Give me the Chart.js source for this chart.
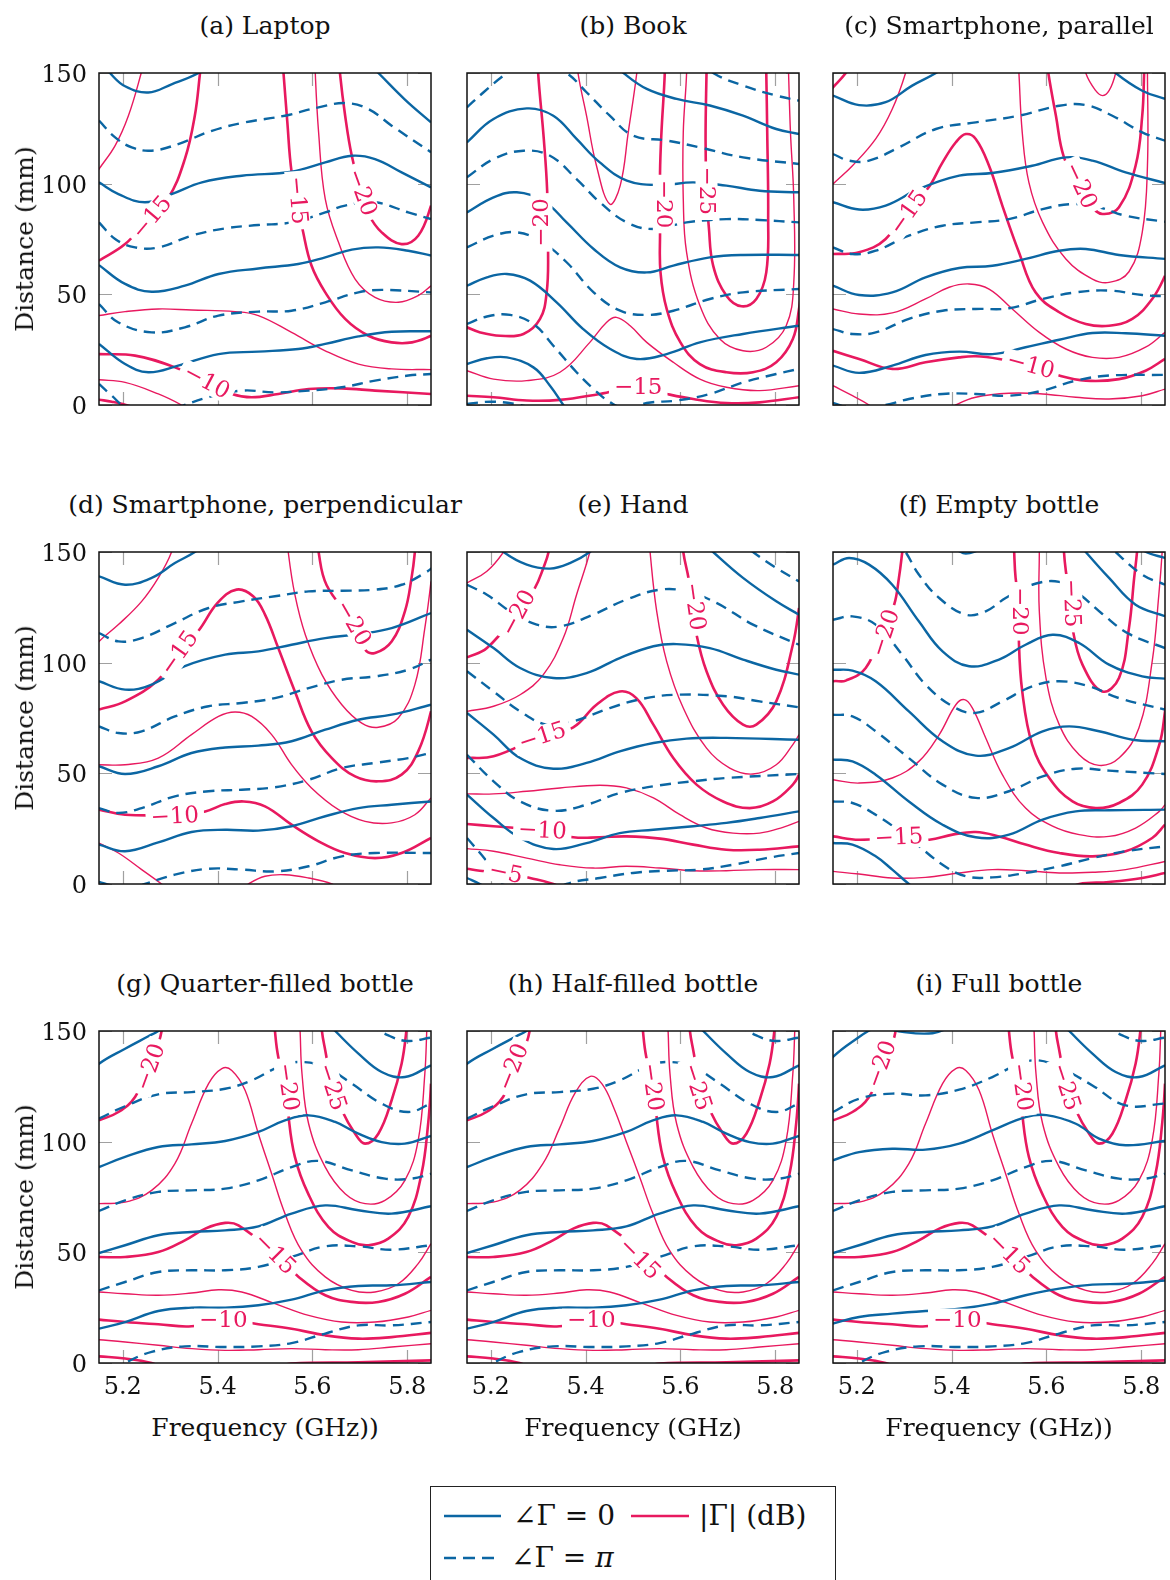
<!DOCTYPE html>
<html>
<head>
<meta charset="utf-8">
<script src="https://cdn.jsdelivr.net/npm/chart.js@4.4.1/dist/chart.umd.min.js"></script>
<style>
  body { margin: 0; background: #fff; width: 1170px; height: 1580px; position: relative; overflow: hidden;
         font-family: "DejaVu Serif", "Liberation Serif", serif; color: #111; }
  canvas { position: absolute; }
  .txt { position: absolute; font-size: 25px; line-height: 28px; white-space: nowrap; transform: translate(-50%, -50%); }
  .ylab { position: absolute; font-size: 25px; line-height: 28px; white-space: nowrap; transform: translate(-50%, -50%) rotate(-90deg); }
  #legend { position: absolute; left: 430px; top: 1486px; width: 404px; height: 130px; border: 1.4px solid #222; }
  #legend span { position: absolute; font-size: 28px; line-height: 30px; white-space: nowrap; transform: translateY(-50%); }
  #legend svg { position: absolute; left: 0; top: 0; }
</style>
</head>
<body>
<script>
// axes
const freqRange = [5.15, 5.85];
const distRange = [0, 150];
const freqTicks = [5.2, 5.4, 5.6, 5.8];
const distTicks = [0, 50, 100, 150];

const titles = ['(a) Laptop', '(b) Book', '(c) Smartphone, parallel',
  '(d) Smartphone, perpendicular', '(e) Hand', '(f) Empty bottle',
  '(g) Quarter-filled bottle', '(h) Half-filled bottle', '(i) Full bottle'];
const xTitles = ['Frequency (GHz))', 'Frequency (GHz)', 'Frequency (GHz))'];
const yTitle = 'Distance (mm)';

// contour lines: [frequency GHz, distance mm] points
// *Zero = phase 0, *Pi = phase pi, *Major = labelled |Γ| levels, *Minor = in-between |Γ| levels
// *Labels = [freq, dist, angle deg, text]

// (a) Laptop
const aZero = [
  [[5.14,158],[5.173,150],[5.205,144],[5.254,141.2],[5.303,144.9],[5.36,150],[5.39,155]],
  [[5.71,156],[5.739,150],[5.795,138],[5.85,127.7],[5.87,124]],
  [[5.15,100.6],[5.191,95.3],[5.247,91.6],[5.303,95.3],[5.367,100.6],[5.451,103.6],[5.556,105.4],[5.627,109.6],[5.683,112.6],[5.732,111.1],[5.788,105.1],[5.85,98.3]],
  [[5.15,63.2],[5.205,54.7],[5.261,51.2],[5.331,53.9],[5.402,59.2],[5.486,61.7],[5.57,63.7],[5.627,66.7],[5.683,70.2],[5.739,71.2],[5.802,69.7],[5.85,67.5]],
  [[5.15,27.6],[5.205,18.5],[5.254,14.8],[5.317,17.8],[5.402,23],[5.486,24.1],[5.57,25.3],[5.627,27.6],[5.697,31],[5.767,33.1],[5.85,33.3]]
];
const aPi = [
  [[5.15,128.5],[5.184,120.9],[5.219,116.4],[5.261,114.9],[5.317,117.9],[5.388,123.9],[5.458,127.7],[5.542,130.7],[5.613,134.5],[5.669,136.4],[5.718,133.7],[5.767,126.2],[5.85,114.2]],
  [[5.15,82.5],[5.184,75],[5.226,71.2],[5.275,71.2],[5.345,76.5],[5.416,79.8],[5.486,81.3],[5.556,82.5],[5.627,87],[5.669,90.1],[5.732,91.6],[5.802,87],[5.85,84]],
  [[5.15,45.6],[5.191,37.3],[5.261,32.8],[5.331,35.1],[5.402,40.4],[5.486,42.2],[5.556,42.6],[5.627,46.4],[5.697,50.9],[5.746,52],[5.85,50.9]],
  [[5.15,9.5],[5.177,4.2],[5.205,-1],[5.26,-6],[5.331,0],[5.38,3.5],[5.451,6.5],[5.521,5.7],[5.592,6.5],[5.662,8],[5.732,11],[5.802,13.3],[5.85,14]]
];
const aMajor = [
  [[5.15,65.2],[5.205,72.7],[5.247,82.5],[5.295,93.1],[5.331,111.1],[5.352,130.7],[5.363,150],[5.367,158]],
  [[5.536,158],[5.539,150],[5.547,128],[5.556,105.4],[5.572,87.8],[5.579,79.5],[5.598,63],[5.627,50.9],[5.669,38.9],[5.718,31.3],[5.767,28.3],[5.81,28.3],[5.85,31.3],[5.87,35]],
  [[5.656,158],[5.658,150],[5.669,130.7],[5.683,112.6],[5.704,95.3],[5.718,86.3],[5.746,78],[5.788,72.7],[5.823,76.5],[5.85,90.1],[5.86,100]],
  [[5.15,23],[5.226,22.3],[5.31,17],[5.374,10.2],[5.43,5],[5.472,3.5],[5.528,5],[5.592,7.2],[5.662,7.5],[5.732,6.5],[5.85,5]],
  [[5.15,2.4],[5.177,1.5],[5.212,-0.3],[5.23,-2]]
];
const aMinor = [
  [[5.13,100],[5.15,106.6],[5.184,117.2],[5.212,130.7],[5.239,150],[5.245,156]],
  [[5.606,158],[5.606,150],[5.613,123.2],[5.627,93.1],[5.655,73.5],[5.69,56.9],[5.732,48.6],[5.781,46.4],[5.823,49.4],[5.85,53.9],[5.87,58]],
  [[5.15,40.4],[5.205,42.2],[5.275,43.4],[5.345,42.9],[5.437,42.2],[5.486,40.4],[5.556,32.8],[5.627,24.5],[5.697,18.5],[5.767,16.3],[5.85,16]],
  [[5.15,11.4],[5.205,10.2],[5.275,5],[5.324,0],[5.345,-3]]
];
const aLabels = [[5.261,84.8,-50,'−15'],[5.569,92.5,85,'−15'],[5.704,96.1,70,'−20'],[5.377,10.5,28,'−10']];

// (b) Book
const bZero = [
  [[5.44,158],[5.48,150],[5.529,142.8],[5.592,138.3],[5.662,135.3],[5.732,130.7],[5.802,124.7],[5.85,122.4]],
  [[5.15,118.7],[5.206,129.2],[5.276,134],[5.332,130.7],[5.381,120.2],[5.43,109.6],[5.487,101.4],[5.557,99.4],[5.627,100.6],[5.697,99.1],[5.767,96.8],[5.85,96.1]],
  [[5.15,87],[5.206,93.8],[5.255,96.1],[5.311,92.3],[5.36,82.5],[5.417,70.5],[5.473,62.2],[5.529,59.9],[5.585,63],[5.662,66.7],[5.732,67.8],[5.85,67.8]],
  [[5.15,53.9],[5.192,57.7],[5.234,59.2],[5.283,56.2],[5.339,46.4],[5.395,34.3],[5.452,25.3],[5.508,20.8],[5.571,23],[5.641,28.3],[5.732,32.1],[5.85,35.8]],
  [[5.15,18.5],[5.192,21.1],[5.234,21.5],[5.29,17],[5.325,8.7],[5.353,0],[5.37,-5]]
];
const bPi = [
  [[5.15,134.5],[5.185,141.3],[5.227,148.8],[5.29,158],[5.36,150],[5.402,141.3],[5.451,130.7],[5.5,121.7],[5.571,119.5],[5.641,116.4],[5.732,111.9],[5.85,108.9]],
  [[5.64,156],[5.669,150],[5.732,144.3],[5.802,139.8],[5.85,137.5]],
  [[5.15,102.9],[5.206,111.1],[5.269,114.9],[5.325,112.6],[5.381,102.1],[5.43,91.6],[5.487,82.5],[5.543,79.5],[5.613,82.5],[5.697,84],[5.767,83.6],[5.85,82.5]],
  [[5.15,71.2],[5.206,76.5],[5.255,78],[5.304,74.2],[5.36,64.5],[5.417,50.9],[5.473,42.6],[5.529,40.7],[5.585,42.6],[5.662,47.9],[5.732,50.9],[5.85,52.4]],
  [[5.15,36.6],[5.192,40],[5.241,40.7],[5.29,36.6],[5.332,26.8],[5.381,14.8],[5.417,7.2],[5.452,1.2],[5.49,-2],[5.529,0.9],[5.592,2],[5.662,5],[5.732,10.2],[5.802,14],[5.85,16.3]],
  [[5.15,0.5],[5.2,1.5],[5.25,0.5],[5.3,-2]]
];
const bMajor = [
  [[5.3,158],[5.3,150],[5.312,120],[5.319,96.8],[5.321,69.7],[5.318,50.9],[5.304,38.9],[5.269,32.1],[5.22,31.3],[5.178,32.8],[5.15,35.1],[5.13,37]],
  [[5.566,158],[5.567,150],[5.56,123.2],[5.557,105.1],[5.557,78],[5.558,59.9],[5.571,43.4],[5.6,28.3],[5.641,18.5],[5.697,14.8],[5.753,14.8],[5.802,19.3],[5.837,29.8],[5.85,43.4],[5.86,60]],
  [[5.656,158],[5.655,150],[5.653,120],[5.655,96.1],[5.66,80],[5.669,63],[5.697,49.4],[5.729,44.6],[5.76,47.9],[5.781,59.9],[5.785,85.5],[5.783,123.2],[5.781,150],[5.78,158]],
  [[5.15,4.2],[5.206,3.5],[5.276,2],[5.346,2.3],[5.43,5],[5.511,8],[5.571,5],[5.627,2.7],[5.697,0.9],[5.767,1.2],[5.85,3.5]]
];
const bMinor = [
  [[5.382,158],[5.384,150],[5.402,130.7],[5.423,108.1],[5.451,90.8],[5.473,99.1],[5.49,123.2],[5.508,150],[5.51,158]],
  [[5.612,158],[5.613,150],[5.606,123.2],[5.606,93.1],[5.613,69],[5.641,44.9],[5.683,29.8],[5.732,24.5],[5.781,26.1],[5.823,35.8],[5.839,55.4],[5.839,93.1],[5.832,123.2],[5.828,150],[5.827,158]],
  [[5.15,15.5],[5.206,11.7],[5.276,11],[5.346,14.8],[5.409,28.3],[5.444,37.3],[5.465,39.6],[5.494,35.8],[5.529,28.3],[5.585,19.3],[5.641,11.7],[5.697,8],[5.767,6.5],[5.85,8.7]]
];
const bLabels = [[5.307,82.5,-90,'−20'],[5.565,90.8,90,'−20'],[5.655,96.8,90,'−25'],[5.511,8,0,'−15']];

// (c) Smartphone, parallel
const cZero = [
  [[5.15,139.8],[5.205,135.5],[5.261,136.8],[5.317,144.3],[5.367,150],[5.4,155]],
  [[5.72,156],[5.746,150],[5.802,142],[5.85,138.3]],
  [[5.15,91.6],[5.205,88.3],[5.261,90.1],[5.331,97.6],[5.416,103.6],[5.486,104.8],[5.57,108.1],[5.641,111.9],[5.697,110.4],[5.767,105.1],[5.85,100.3]],
  [[5.15,53.9],[5.205,49.7],[5.275,50.9],[5.345,57.7],[5.416,61.9],[5.486,62.9],[5.556,66],[5.627,69.7],[5.683,70.5],[5.753,67.8],[5.85,66]],
  [[5.15,17.8],[5.205,14.5],[5.275,17.8],[5.345,22.6],[5.416,24.1],[5.486,23],[5.556,26.1],[5.627,29.5],[5.697,32.5],[5.767,32.4],[5.85,31.3]]
];
const cPi = [
  [[5.15,113.4],[5.184,110.4],[5.226,110.4],[5.289,116.4],[5.367,124.7],[5.451,127.7],[5.542,130.7],[5.627,135.2],[5.683,135.5],[5.739,130.7],[5.802,123.2],[5.85,119.4]],
  [[5.15,71.2],[5.191,68.2],[5.24,69.7],[5.31,76.5],[5.381,81],[5.451,82.5],[5.521,84],[5.592,88.5],[5.655,90.8],[5.711,89.3],[5.767,85.5],[5.85,82.8]],
  [[5.15,34.3],[5.191,32.1],[5.24,32.8],[5.31,38.9],[5.381,42.6],[5.451,43.4],[5.521,43.7],[5.592,47.9],[5.662,50.9],[5.732,51.7],[5.802,49.7],[5.85,49.1]],
  [[5.15,1],[5.2,-2],[5.261,0],[5.31,2.7],[5.381,5],[5.451,5],[5.521,4.2],[5.592,6.5],[5.662,11],[5.732,13.3],[5.85,13.6]]
];
const cMajor = [
  [[5.13,139],[5.15,143.5],[5.177,150],[5.19,155]],
  [[5.15,68.2],[5.205,69],[5.261,75],[5.31,90.1],[5.349,97.6],[5.381,109.6],[5.409,118.7],[5.43,122.4],[5.451,120.2],[5.479,108.1],[5.507,90.1],[5.542,69],[5.577,50.9],[5.627,41.9],[5.683,36.6],[5.732,35.8],[5.781,38.9],[5.823,47.9],[5.85,58.4],[5.86,65]],
  [[5.6,158],[5.604,150],[5.62,130.7],[5.637,111.9],[5.669,99.1],[5.694,90.1],[5.718,86.3],[5.753,89.3],[5.788,108.1],[5.802,130.7],[5.806,150],[5.807,158]],
  [[5.15,24.5],[5.205,20.8],[5.275,16.3],[5.345,19.3],[5.416,21.5],[5.451,22],[5.5,20.8],[5.567,17.8],[5.627,13.3],[5.683,11],[5.753,11.7],[5.809,15.5],[5.85,20.8]]
];
const cMinor = [
  [[5.13,95],[5.15,99.8],[5.191,108.1],[5.24,120.2],[5.275,133.7],[5.303,150],[5.31,158]],
  [[5.54,158],[5.542,150],[5.549,123.2],[5.563,100.6],[5.592,82.5],[5.641,66],[5.697,56.9],[5.732,55.4],[5.774,60.2],[5.802,78],[5.813,108.1],[5.813,150],[5.812,158]],
  [[5.68,158],[5.683,150],[5.704,142],[5.718,139.8],[5.732,142],[5.746,150],[5.75,158]],
  [[5.15,43.4],[5.205,41.1],[5.275,41.6],[5.345,47.9],[5.395,53.2],[5.437,54.7],[5.479,52.4],[5.528,43.4],[5.585,32.8],[5.641,25.3],[5.697,21.5],[5.753,21.5],[5.809,26.1],[5.85,32.8]],
  [[5.15,8.7],[5.191,4.2],[5.226,0],[5.24,-3]],
  [[5.39,-3],[5.409,0],[5.451,3.5],[5.521,5.3],[5.592,5],[5.662,3.5],[5.732,2.7],[5.802,4.2],[5.85,7.2]]
];
const cLabels = [[5.309,87,-55,'−15'],[5.672,99.1,65,'−20'],[5.567,17.8,15,'−10']];

// (d) Smartphone, perpendicular
const dZero = [
  [[5.15,139],[5.205,135.2],[5.261,138.3],[5.31,145],[5.352,150],[5.38,155]],
  [[5.15,91.6],[5.205,87.8],[5.261,90.1],[5.331,98.4],[5.416,103.6],[5.486,105.1],[5.556,108.1],[5.627,111.1],[5.697,112.9],[5.767,115.6],[5.85,122.4]],
  [[5.15,53.2],[5.205,49.7],[5.275,53.2],[5.345,59.2],[5.416,61.7],[5.486,62.5],[5.556,64.5],[5.627,69.7],[5.697,74.2],[5.767,76.5],[5.85,81]],
  [[5.15,17.8],[5.205,14.8],[5.275,18.8],[5.345,23.5],[5.416,24.5],[5.486,24.1],[5.556,26.1],[5.627,30.6],[5.697,34.3],[5.767,35.8],[5.85,37.3]],
  [[5.15,1],[5.18,-1],[5.2,-3]]
];
const dPi = [
  [[5.15,113.4],[5.191,109.6],[5.24,111.1],[5.31,117.9],[5.381,124.7],[5.451,127.7],[5.521,130],[5.592,132.2],[5.662,132.5],[5.732,133],[5.788,135.2],[5.837,140.5],[5.86,144]],
  [[5.15,71.2],[5.191,68.2],[5.24,69],[5.31,75.7],[5.381,80.3],[5.451,81.8],[5.521,84],[5.592,88.5],[5.662,92.3],[5.732,93.8],[5.802,96.8],[5.85,101.4]],
  [[5.15,34.3],[5.191,32.1],[5.24,34.3],[5.31,39.6],[5.381,41.9],[5.451,42.6],[5.521,43.7],[5.592,47.1],[5.662,52.4],[5.732,54.7],[5.802,56.9],[5.85,59.2]],
  [[5.2,-4],[5.247,0],[5.31,4.2],[5.381,6.9],[5.451,6.5],[5.521,5.7],[5.592,8],[5.662,12.5],[5.732,14],[5.85,14]]
];
const dMajor = [
  [[5.15,78.8],[5.205,82.5],[5.275,92.3],[5.317,105.1],[5.359,114.2],[5.4,127],[5.44,133],[5.475,130],[5.5,121.7],[5.528,106.6],[5.563,87],[5.598,69],[5.641,56.9],[5.69,48.6],[5.739,46.4],[5.788,49.4],[5.823,59.9],[5.85,78],[5.86,90]],
  [[5.611,158],[5.613,150],[5.63,135],[5.686,118],[5.711,105.9],[5.732,104.4],[5.767,109.6],[5.795,123.2],[5.809,138.3],[5.816,150],[5.818,158]],
  [[5.15,33.6],[5.205,31.3],[5.31,31.3],[5.374,32.8],[5.416,36.1],[5.455,37.3],[5.5,35.1],[5.556,26.8],[5.613,19.3],[5.669,14],[5.732,11.7],[5.788,14],[5.85,20.8]]
];
const dMinor = [
  [[5.13,104],[5.15,109.6],[5.191,117.2],[5.24,127.7],[5.275,138.3],[5.303,150],[5.31,158]],
  [[5.547,158],[5.549,150],[5.563,130.7],[5.585,112.6],[5.62,94.6],[5.662,81],[5.704,72.7],[5.739,70.8],[5.781,75],[5.816,90.1],[5.837,115.6],[5.85,136.7],[5.855,150]],
  [[5.15,53.9],[5.205,53.9],[5.275,56.9],[5.345,67.5],[5.402,75.7],[5.437,77.7],[5.472,75.7],[5.514,67.5],[5.556,53.9],[5.598,43.4],[5.655,33.6],[5.711,28.3],[5.767,27.6],[5.816,31.3],[5.85,38.9]],
  [[5.15,18.5],[5.191,14],[5.24,6.5],[5.282,0],[5.3,-3]],
  [[5.45,-3],[5.465,0],[5.5,3.5],[5.542,4.2],[5.592,2.7],[5.641,0],[5.66,-3]]
];
const dLabels = [[5.319,104.4,-55,'−15'],[5.686,117.9,60,'−20'],[5.31,30.6,-3,'−10']];

// (e) Hand
const eZero = [
  [[5.2,156],[5.227,150],[5.276,144.3],[5.325,142.5],[5.367,145],[5.409,150],[5.43,155]],
  [[5.64,156],[5.669,150],[5.732,138.3],[5.802,127.7],[5.85,121.7]],
  [[5.15,114.9],[5.206,106.6],[5.262,97.6],[5.332,93.1],[5.402,95.3],[5.472,102.1],[5.543,107.4],[5.592,108.4],[5.662,106.6],[5.732,101.4],[5.802,96.8],[5.85,94.6]],
  [[5.15,77.3],[5.206,67.5],[5.262,56.9],[5.332,52.1],[5.402,54.7],[5.472,59.9],[5.543,63.7],[5.613,65.7],[5.697,66],[5.85,65.2]],
  [[5.15,40.4],[5.206,29.8],[5.262,20.8],[5.332,15.8],[5.402,18.5],[5.472,23],[5.543,24.5],[5.627,26.1],[5.697,27.6],[5.767,29.8],[5.85,32.8]],
  [[5.15,2.7],[5.177,0],[5.2,-3]]
];
const ePi = [
  [[5.15,135.2],[5.192,130.7],[5.241,123.2],[5.297,117.2],[5.346,116.4],[5.416,121.7],[5.486,128.5],[5.557,133],[5.613,132.2],[5.676,127],[5.753,117.2],[5.85,108.1]],
  [[5.72,156],[5.753,150],[5.802,142.8],[5.85,136.7]],
  [[5.15,96.1],[5.206,87],[5.262,78],[5.318,72],[5.374,73.5],[5.451,79.5],[5.521,83.7],[5.592,85.5],[5.697,84.8],[5.767,82.5],[5.85,79.8]],
  [[5.15,58.4],[5.206,46.4],[5.262,37.3],[5.332,33.1],[5.402,35.8],[5.472,41.1],[5.557,44.6],[5.627,46.4],[5.697,47.9],[5.85,49.7]],
  [[5.15,20.8],[5.192,10.2],[5.227,0],[5.29,-8],[5.36,0],[5.43,2.7],[5.5,5],[5.571,6],[5.641,6.5],[5.711,8.7],[5.781,11.7],[5.85,14]]
];
const eMajor = [
  [[5.15,102.4],[5.192,106.6],[5.258,123.2],[5.293,133.7],[5.311,142.8],[5.322,150],[5.326,158]],
  [[5.15,56.9],[5.206,57.7],[5.307,66.7],[5.374,70.8],[5.423,81],[5.472,87],[5.507,84],[5.543,72],[5.585,56.9],[5.634,44.9],[5.69,37.3],[5.746,34.3],[5.795,37.3],[5.837,44.9],[5.85,49.4],[5.86,55]],
  [[5.604,158],[5.606,150],[5.617,138.3],[5.627,125.4],[5.634,112.6],[5.655,96.1],[5.69,81],[5.732,72],[5.76,72],[5.802,82.5],[5.837,108.1],[5.85,124.7],[5.855,135]],
  [[5.15,27.1],[5.206,26.1],[5.307,24.1],[5.374,21.1],[5.43,21.1],[5.486,21.5],[5.557,20.5],[5.627,17.8],[5.697,15.5],[5.767,15.5],[5.85,17]],
  [[5.15,6.9],[5.177,6],[5.235,5],[5.283,2.7],[5.332,0],[5.35,-2]]
];
const eMinor = [
  [[5.15,136],[5.192,141.3],[5.227,150],[5.24,156]],
  [[5.15,78],[5.206,80.3],[5.262,85.5],[5.311,94.6],[5.353,111.1],[5.381,130.7],[5.409,150],[5.415,158]],
  [[5.534,158],[5.536,150],[5.55,123.2],[5.571,100.6],[5.606,79.5],[5.655,61.4],[5.704,52.4],[5.753,49.7],[5.802,53.9],[5.837,63],[5.85,67.5],[5.86,72]],
  [[5.15,40.7],[5.206,40.7],[5.276,41.9],[5.346,43.4],[5.43,44.6],[5.486,43.4],[5.543,38.9],[5.599,31.3],[5.655,25.3],[5.711,23],[5.767,23],[5.816,25.6],[5.85,28.3]],
  [[5.15,16],[5.206,14.8],[5.276,11.7],[5.346,8.7],[5.416,7.2],[5.486,8],[5.557,7.2],[5.627,6],[5.697,6],[5.767,6.5],[5.85,6.5]]
];
const eLabels = [[5.258,122.4,-62,'−20'],[5.309,66.7,-18,'−15'],[5.63,125.4,82,'−20'],[5.309,24.1,3,'−10'],[5.232,5,12,'−5']];

// (f) Empty bottle
const fZero = [
  [[5.15,144.3],[5.184,147.3],[5.226,144.3],[5.275,135.2],[5.331,118.7],[5.381,105.1],[5.437,98.4],[5.5,101.4],[5.556,108.1],[5.613,112.6],[5.669,108.9],[5.732,99.1],[5.802,93.8],[5.85,92.8]],
  [[5.66,156],[5.683,150],[5.732,138.3],[5.788,126.2],[5.85,121]],
  [[5.795,153],[5.81,150],[5.85,147.3]],
  [[5.41,151],[5.43,149.3],[5.46,151]],
  [[5.15,96.8],[5.191,96.4],[5.24,91.6],[5.31,78],[5.381,64.5],[5.451,58],[5.521,61.4],[5.592,69],[5.648,71.2],[5.711,69],[5.781,65.2],[5.85,64.5]],
  [[5.15,56.2],[5.191,55.4],[5.24,49.4],[5.31,37.3],[5.381,26.8],[5.451,21.1],[5.521,22.3],[5.592,29.1],[5.662,32.8],[5.732,33.3],[5.85,33.6]],
  [[5.15,18.5],[5.191,17.8],[5.24,12.5],[5.275,6.5],[5.31,0],[5.33,-3]]
];
const fPi = [
  [[5.28,156],[5.303,150],[5.331,139.8],[5.374,129.2],[5.43,121.7],[5.472,123.2],[5.514,129.2],[5.57,135.2],[5.627,136.5],[5.669,131],[5.718,122],[5.774,113],[5.85,106.6]],
  [[5.72,156],[5.746,150],[5.802,139.8],[5.85,135.2]],
  [[5.15,119.4],[5.191,120.9],[5.24,117.2],[5.296,103.6],[5.345,90.1],[5.402,80.3],[5.451,77.3],[5.507,82.5],[5.57,89.3],[5.627,91.6],[5.69,89.3],[5.753,84],[5.85,78.8]],
  [[5.15,76.5],[5.191,75.7],[5.24,69],[5.31,56.9],[5.381,44.9],[5.451,38.9],[5.521,41.9],[5.592,48.6],[5.662,52.1],[5.732,51.2],[5.85,49.7]],
  [[5.15,37.3],[5.191,36.6],[5.24,31.3],[5.31,20.8],[5.381,8.7],[5.43,3.5],[5.486,3],[5.556,5],[5.627,8],[5.697,11.7],[5.767,14.8],[5.85,17]]
];
const fMajor = [
  [[5.13,90],[5.15,91.6],[5.177,91.9],[5.219,97.6],[5.257,115.6],[5.279,126.2],[5.289,138.3],[5.296,150],[5.3,158]],
  [[5.531,158],[5.532,150],[5.535,138.3],[5.544,123.2],[5.542,109.6],[5.549,87],[5.57,63],[5.606,47.9],[5.655,37.3],[5.704,34.3],[5.753,36.6],[5.802,44.9],[5.838,63],[5.85,78],[5.856,90]],
  [[5.636,158],[5.637,150],[5.641,141.3],[5.651,126.9],[5.655,115.6],[5.676,99.1],[5.718,87],[5.753,93.1],[5.774,115.6],[5.785,138.3],[5.791,150],[5.793,158]],
  [[5.15,21.5],[5.205,20],[5.286,21.1],[5.353,20],[5.402,22.3],[5.451,23.5],[5.5,21.5],[5.556,17.8],[5.627,14],[5.697,12.5],[5.767,14.8],[5.823,20.8],[5.85,26.8]],
  [[5.65,-2],[5.669,0],[5.732,0.9],[5.802,2.7],[5.85,5]]
];
const fMinor = [
  [[5.15,47.1],[5.205,45.6],[5.275,47.9],[5.331,55.4],[5.374,67.5],[5.409,81],[5.427,83.3],[5.444,79.5],[5.472,66],[5.507,49.4],[5.556,34.3],[5.613,26.1],[5.669,22.3],[5.732,21.5],[5.788,25.3],[5.838,32.8],[5.85,35.8]],
  [[5.585,158],[5.585,150],[5.585,123.2],[5.599,93.1],[5.627,72],[5.669,58.4],[5.711,53.6],[5.753,56.9],[5.795,70.5],[5.823,100.6],[5.837,130.7],[5.844,150],[5.845,158]],
  [[5.15,5.7],[5.205,4.5],[5.275,2.7],[5.345,3],[5.416,5],[5.486,6.5],[5.556,6],[5.627,5],[5.697,5.3],[5.767,6.5],[5.85,10.2]]
];
const fLabels = [[5.26,113.4,-72,'−20'],[5.544,123.2,90,'−20'],[5.653,126.9,88,'−25'],[5.289,21.1,-3,'−15']];

// (g) Quarter-filled bottle
const gZero = [
  [[5.13,130],[5.15,135.2],[5.205,142],[5.254,147.6],[5.275,150],[5.3,154]],
  [[5.62,156],[5.648,150],[5.697,139.8],[5.746,131.5],[5.795,129.2],[5.85,134.5]],
  [[5.15,88.5],[5.205,93.1],[5.275,97.6],[5.345,98.8],[5.416,100.3],[5.486,104.4],[5.542,109.6],[5.592,111.9],[5.648,108.9],[5.697,103.6],[5.746,99.8],[5.795,99.1],[5.85,102.6]],
  [[5.15,49.7],[5.205,53.2],[5.275,57.7],[5.345,59.2],[5.416,59.9],[5.486,61.7],[5.556,67.5],[5.627,71.2],[5.697,69],[5.767,67.5],[5.85,70.8]],
  [[5.15,15.5],[5.205,18.5],[5.275,23.5],[5.345,25],[5.416,25],[5.486,26.1],[5.556,28.6],[5.627,32.8],[5.697,34.8],[5.767,35.1],[5.85,36.6]]
];
const gPi = [
  [[5.72,153],[5.76,148],[5.8,145.5],[5.85,147]],
  [[5.15,110.4],[5.205,116],[5.275,121.4],[5.345,122.4],[5.416,123.9],[5.472,127.7],[5.528,133.7],[5.571,136],[5.627,133.7],[5.683,126.2],[5.746,117.2],[5.802,113.4],[5.85,117.2]],
  [[5.15,68.7],[5.205,73.5],[5.275,77.3],[5.345,78],[5.416,78.8],[5.486,82.5],[5.556,88.5],[5.613,91.3],[5.683,87],[5.753,83.3],[5.809,83.3],[5.85,85.5]],
  [[5.15,32.8],[5.205,36.6],[5.275,41.1],[5.345,41.9],[5.416,41.9],[5.486,43.4],[5.556,47.9],[5.627,52.7],[5.697,52.7],[5.767,51.2],[5.85,53.2]],
  [[5.18,-4],[5.205,0],[5.261,5],[5.331,7.5],[5.416,7.2],[5.486,7.5],[5.556,9],[5.627,13.3],[5.697,17],[5.767,17],[5.85,18.5]]
];
const gMajor = [
  [[5.15,109.6],[5.191,113.4],[5.226,120.2],[5.258,135.2],[5.275,144.3],[5.282,150],[5.285,158]],
  [[5.519,158],[5.521,150],[5.528,138.3],[5.546,123.7],[5.549,112.6],[5.563,93.1],[5.591,76.5],[5.634,61.4],[5.683,54.7],[5.718,53.2],[5.76,56.2],[5.802,66],[5.83,85.5],[5.844,108.1],[5.85,126.2],[5.852,140]],
  [[5.618,158],[5.62,150],[5.627,141.3],[5.641,126.2],[5.662,114.2],[5.69,103.6],[5.711,99.1],[5.739,103.6],[5.767,118.7],[5.788,135.2],[5.798,150],[5.8,158]],
  [[5.15,47.9],[5.205,47.9],[5.275,50.1],[5.331,55.4],[5.374,60.7],[5.416,63.3],[5.444,62.2],[5.521,49.4],[5.571,38.9],[5.627,30.6],[5.683,27.6],[5.739,27.6],[5.795,31.3],[5.85,38.9]],
  [[5.15,19.6],[5.205,18.5],[5.275,17.5],[5.345,16.6],[5.412,19.6],[5.486,17.5],[5.556,15.5],[5.627,12.5],[5.697,11],[5.767,11.7],[5.85,13.6]],
  [[5.15,3],[5.205,2],[5.261,0],[5.28,-2]],
  [[5.52,-2],[5.556,-0.3],[5.697,0.3],[5.85,1.2]]
];
const gMinor = [
  [[5.15,72],[5.205,72.7],[5.261,78],[5.31,90.1],[5.345,108.1],[5.381,126.2],[5.409,133],[5.43,132.2],[5.458,123.2],[5.486,103.6],[5.514,85.5],[5.542,67.5],[5.577,50.9],[5.627,38.9],[5.683,32.8],[5.732,32.1],[5.781,35.8],[5.823,44.9],[5.85,53.9]],
  [[5.572,158],[5.574,150],[5.578,130.7],[5.592,108.1],[5.627,88.5],[5.669,76.5],[5.711,72],[5.753,73.5],[5.795,82.5],[5.823,100.6],[5.837,130.7],[5.841,150],[5.842,158]],
  [[5.15,32.1],[5.205,31.3],[5.275,30.6],[5.345,31.6],[5.402,33.1],[5.451,32.1],[5.521,26.8],[5.592,21.5],[5.662,18.5],[5.732,18.5],[5.802,20.8],[5.85,23.8]],
  [[5.15,10.5],[5.205,9.5],[5.275,8],[5.345,6.5],[5.416,5.7],[5.486,6],[5.556,6.5],[5.627,6],[5.697,6],[5.767,7.2],[5.85,8.7]]
];
const gLabels = [[5.258,133.7,-70,'−20'],[5.548,124.7,82,'−20'],[5.641,124.7,72,'−25'],[5.521,49.4,45,'−15'],[5.412,19.6,0,'−10']];

// (h) Half-filled bottle
const hZero = gZero;
const hPi = gPi;
const hMajor = gMajor;
const hMinor = [
  [[5.15,72],[5.205,72.7],[5.261,78],[5.31,90.1],[5.345,106],[5.378,122],[5.41,129.5],[5.435,126],[5.46,115],[5.486,100],[5.514,84],[5.542,67.5],[5.577,50.9],[5.627,38.9],[5.683,32.8],[5.732,32.1],[5.781,35.8],[5.823,44.9],[5.85,53.9]],
  gMinor[1], gMinor[2], gMinor[3]
];
const hLabels = [[5.247,133.7,-68,'−20'],[5.541,124.7,82,'−20'],[5.635,124.7,72,'−25'],[5.514,47.1,45,'−15'],[5.412,19.6,0,'−10']];

// (i) Full bottle
const iZero = [
  [[5.13,132],[5.15,138.3],[5.205,147.3],[5.24,152]],
  [[5.25,152],[5.3,149.5],[5.36,149],[5.4,152]],
  gZero[1],
  [[5.15,91.6],[5.205,95.3],[5.275,96.8],[5.345,96.4],[5.416,99.1],[5.486,105.1],[5.556,111.1],[5.6,112],[5.662,108.1],[5.711,101.4],[5.767,98.4],[5.85,100.3]],
  gZero[3],
  [[5.15,17.8],[5.205,20.8],[5.275,22.3],[5.345,23.5],[5.416,24.5],[5.486,26.8],[5.556,30.6],[5.627,33.6],[5.697,35.4],[5.767,35.8],[5.85,37.3]]
];
const iPi = [
  gPi[0],
  [[5.15,113.4],[5.205,119.4],[5.275,121.7],[5.345,120.9],[5.416,123.5],[5.486,129.2],[5.535,134.5],[5.578,136.8],[5.627,133.7],[5.697,125.4],[5.767,116.4],[5.85,117.2]],
  gPi[2], gPi[3], gPi[4]
];
const iMajor = gMajor;
const iMinor = gMinor;
const iLabels = [[5.252,135,-70,'−20'],[5.548,124.7,82,'−20'],[5.641,124.7,72,'−25'],[5.521,49.4,45,'−15'],[5.412,19.6,0,'−10']];

const blue = '#0b66a3';
const pink = '#e8195f';

const panels = [
  [aZero, aPi, aMajor, aMinor, aLabels],
  [bZero, bPi, bMajor, bMinor, bLabels],
  [cZero, cPi, cMajor, cMinor, cLabels],
  [dZero, dPi, dMajor, dMinor, dLabels],
  [eZero, ePi, eMajor, eMinor, eLabels],
  [fZero, fPi, fMajor, fMinor, fLabels],
  [gZero, gPi, gMajor, gMinor, gLabels],
  [hZero, hPi, hMajor, hMinor, hLabels],
  [iZero, iPi, iMajor, iMinor, iLabels]
];

// plot area placement
const PLOT = 332;
const colLeft = [99, 467, 833];
const rowTop = [73, 552, 1031];
const PAD = { left: 80, top: 20, right: 20, bottom: 50 };
const FONT = '"DejaVu Serif"';

// frame, inside ticks, tick labels and contour labels
const framePlugin = {
  id: 'frame',
  beforeDatasetsDraw(chart) {
    const { ctx, chartArea: a, scales: { x, y } } = chart;
    ctx.save();
    ctx.strokeStyle = '#a0a0a0';
    ctx.lineWidth = 1.2;
    ctx.beginPath();
    for (const v of freqTicks) {
      const px = Math.round(x.getPixelForValue(v)) + 0.5;
      ctx.moveTo(px, a.top); ctx.lineTo(px, a.top + 13);
      ctx.moveTo(px, a.bottom); ctx.lineTo(px, a.bottom - 13);
    }
    for (const v of distTicks) {
      const py = Math.round(y.getPixelForValue(v)) + 0.5;
      ctx.moveTo(a.left, py); ctx.lineTo(a.left + 13, py);
      ctx.moveTo(a.right, py); ctx.lineTo(a.right - 13, py);
    }
    ctx.stroke();
    ctx.restore();
  },
  afterDatasetsDraw(chart, args, opts) {
    const { ctx, chartArea: a, scales: { x, y } } = chart;
    ctx.save();
    ctx.beginPath();
    ctx.rect(a.left, a.top, a.right - a.left, a.bottom - a.top);
    ctx.clip();
    ctx.font = '23px ' + FONT;
    ctx.textAlign = 'center';
    ctx.textBaseline = 'middle';
    for (const [f, d, ang, txt] of opts.labels) {
      ctx.save();
      ctx.translate(x.getPixelForValue(f), y.getPixelForValue(d));
      ctx.rotate(ang * Math.PI / 180);
      const w = ctx.measureText(txt).width;
      ctx.fillStyle = '#fff';
      ctx.fillRect(-w / 2 - 5, -11, w + 10, 22);
      ctx.fillStyle = pink;
      ctx.fillText(txt, 0, 1);
      ctx.restore();
    }
    ctx.restore();

    ctx.save();
    ctx.strokeStyle = '#111';
    ctx.lineWidth = 1.5;
    ctx.strokeRect(a.left, a.top, a.right - a.left, a.bottom - a.top);
    ctx.fillStyle = '#111';
    ctx.font = '24px ' + FONT;
    if (opts.showX) {
      ctx.textAlign = 'center';
      ctx.textBaseline = 'alphabetic';
      for (const v of freqTicks) ctx.fillText(v.toFixed(1), x.getPixelForValue(v), a.bottom + 31);
    }
    if (opts.showY) {
      ctx.textAlign = 'right';
      ctx.textBaseline = 'alphabetic';
      for (const v of distTicks) ctx.fillText(String(v), a.left - 12, y.getPixelForValue(v) + 9);
    }
    ctx.restore();
  }
};

panels.forEach(([zero, pi, major, minor, labels], k) => {
  const col = k % 3, row = Math.floor(k / 3);
  const left = colLeft[col], top = rowTop[row];

  const cv = document.createElement('canvas');
  cv.width = PLOT + PAD.left + PAD.right;
  cv.height = PLOT + PAD.top + PAD.bottom;
  cv.style.left = (left - PAD.left) + 'px';
  cv.style.top = (top - PAD.top) + 'px';
  document.body.appendChild(cv);

  const datasets = [];
  const add = (curves, color, width, dash) => curves.forEach(c => datasets.push({
    data: c.map(([fx, dy]) => ({ x: fx, y: dy })),
    borderColor: color, borderWidth: width, borderDash: dash, clip: 0
  }));
  add(zero, blue, 2.4, []);
  add(pi, blue, 2.4, [11, 7]);
  add(major, pink, 2.6, []);
  add(minor, pink, 1.4, []);

  new Chart(cv, {
    type: 'line',
    data: { datasets },
    options: {
      responsive: false,
      animation: false,
      events: [],
      layout: { padding: PAD },
      elements: {
        point: { radius: 0 },
        line: { tension: 0.4, capBezierPoints: false, fill: false }
      },
      scales: {
        x: { type: 'linear', min: freqRange[0], max: freqRange[1], display: false },
        y: { type: 'linear', min: distRange[0], max: distRange[1], display: false }
      },
      plugins: {
        legend: { display: false },
        tooltip: { enabled: false },
        frame: { labels, showX: row === 2, showY: col === 0 }
      }
    },
    plugins: [framePlugin]
  });

  // panel title, axis titles
  const cx = left + PLOT / 2;
  const t = document.createElement('div');
  t.className = 'txt';
  t.textContent = titles[k];
  t.style.left = cx + 'px';
  t.style.top = (top - 47) + 'px';
  document.body.appendChild(t);

  if (col === 0) {
    const yl = document.createElement('div');
    yl.className = 'ylab';
    yl.textContent = yTitle;
    yl.style.left = '25px';
    yl.style.top = (top + PLOT / 2) + 'px';
    document.body.appendChild(yl);
  }
  if (row === 2) {
    const xl = document.createElement('div');
    xl.className = 'txt';
    xl.textContent = xTitles[col];
    xl.style.left = cx + 'px';
    xl.style.top = (top + PLOT + 65) + 'px';
    document.body.appendChild(xl);
  }
});
</script>

<div id="legend">
  <svg width="404" height="120">
    <line x1="13" y1="29" x2="70" y2="29" stroke="#0b66a3" stroke-width="2.6"/>
    <line x1="200" y1="29" x2="258" y2="29" stroke="#e8195f" stroke-width="2.6"/>
    <line x1="13" y1="71" x2="63" y2="71" stroke="#0b66a3" stroke-width="2.6" stroke-dasharray="12,7"/>
  </svg>
  <span style="left:82px;top:29px">∠Γ = 0</span>
  <span style="left:268px;top:29px">|Γ| (dB)</span>
  <span style="left:80px;top:71px">∠Γ = <i>π</i></span>
</div>
</body>
</html>
